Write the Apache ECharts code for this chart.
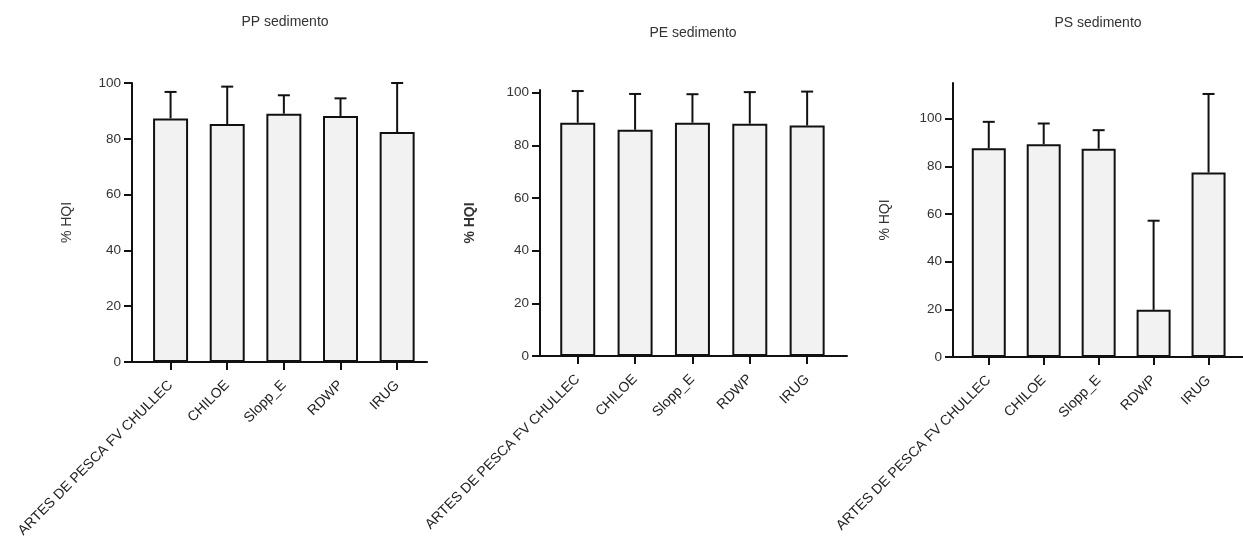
<!DOCTYPE html>
<html>
<head>
<meta charset="utf-8">
<script src="https://cdn.jsdelivr.net/npm/echarts@6/dist/echarts.min.js"></script>
<style>
html,body{margin:0;padding:0;background:#fff;}
#c{width:1243px;height:546px;}
</style>
</head>
<body>
<div id="c"></div>
<script>
const categories = ['ARTES DE PESCA FV CHULLEC', 'CHILOE', 'Slopp_E', 'RDWP', 'IRUG'];
const titles = ['PP sedimento', 'PE sedimento', 'PS sedimento'];
const yTickValues = [0, 20, 40, 60, 80, 100];

const ppMean = [87.3, 85.3, 89.0, 88.2, 82.4];
const ppSD   = [9.5, 13.4, 6.6, 6.3, 17.6];
const peMean = [88.6, 85.9, 88.6, 88.2, 87.5];
const peSD   = [12.0, 13.6, 10.8, 12.0, 12.9];
const psMean = [87.6, 89.3, 87.4, 19.8, 77.4];
const psSD   = [11.1, 8.7, 7.8, 37.4, 33.0];

const chart = echarts.init(document.getElementById('c'), null, {renderer: 'canvas'});
const FONT = '"Liberation Sans", Arial, sans-serif';
const AX = '#111';

// panel layout (pixels)
const panels = [
  {mean: ppMean, sd: ppSD, left: 132, right: 427, top: 83, bottom: 362, xmin: -0.681, xmax: 4.527, ymax: 100, nameGap: 58, bold: false, barW: 35, title: {x: 280, y: 10}},
  {mean: peMean, sd: peSD, left: 540, right: 847, top: 90, bottom: 356, xmin: -0.658, xmax: 4.695, ymax: 101, nameGap: 63, bold: true, barW: 35, title: {x: 688, y: 21}},
  {mean: psMean, sd: psSD, left: 953, right: 1243, top: 83, bottom: 357, xmin: -0.651, xmax: 4.627, ymax: 115, nameGap: 61, bold: false, barW: 34, title: {x: 1093, y: 11}}
];

const grid = [], xAxis = [], yAxis = [], series = [], title = [];
panels.forEach((p, k) => {
  grid.push({left: p.left, width: p.right - p.left, top: p.top, height: p.bottom - p.top, containLabel: false});
  title.push({text: titles[k], left: p.title.x, top: p.title.y, textAlign: 'center',
    textStyle: {fontFamily: FONT, fontSize: 14, fontWeight: 'normal', color: '#333'}});
  xAxis.push({
    type: 'value', gridIndex: k, min: p.xmin, max: p.xmax,
    splitLine: {show: false},
    axisLine: {show: true, onZero: false, lineStyle: {color: AX, width: 2}},
    axisTick: {show: true, length: 8, lineStyle: {color: AX, width: 2}, customValues: [0, 1, 2, 3, 4]},
    axisLabel: {show: true, rotate: 45, margin: 21, fontFamily: FONT, fontSize: 14, color: '#222',
      customValues: [0, 1, 2, 3, 4], formatter: v => categories[Math.round(v)]}
  });
  yAxis.push({
    type: 'value', gridIndex: k, min: 0, max: p.ymax,
    name: '% HQI', nameLocation: 'middle', nameGap: p.nameGap,
    nameTextStyle: {fontFamily: FONT, fontSize: 14, color: '#333', fontWeight: p.bold ? 'bold' : 'normal'},
    splitLine: {show: false},
    axisLine: {show: true, onZero: false, lineStyle: {color: AX, width: 2}},
    axisTick: {show: true, length: 8, lineStyle: {color: AX, width: 2}, customValues: yTickValues},
    axisLabel: {show: true, margin: 11, fontFamily: FONT, fontSize: 13.5, color: '#333', customValues: yTickValues}
  });
  series.push({
    type: 'custom', xAxisIndex: k, yAxisIndex: k, z: 1, clip: false,
    data: p.mean.map((m, i) => [i, m, m + p.sd[i]]),
    renderItem: (params, api) => {
      const base = api.coord([api.value(0), api.value(1)]);
      const top = api.coord([api.value(0), api.value(2)]);
      const cap = 6;
      return {type: 'group', children: [
        {type: 'line', shape: {x1: base[0], y1: base[1], x2: top[0], y2: top[1]}, style: {stroke: AX, lineWidth: 2}},
        {type: 'line', shape: {x1: top[0] - cap, y1: top[1], x2: top[0] + cap, y2: top[1]}, style: {stroke: AX, lineWidth: 2}}
      ]};
    }
  });
  series.push({
    type: 'bar', xAxisIndex: k, yAxisIndex: k, z: 2, barWidth: p.barW,
    data: p.mean.map((m, i) => [i, m]),
    itemStyle: {color: '#f2f2f2', borderColor: AX, borderWidth: 2},
    emphasis: {disabled: true}
  });
});

chart.setOption({
  animation: false,
  backgroundColor: '#fff',
  title, grid, xAxis, yAxis, series,
  tooltip: {show: false}
});
</script>
</body>
</html>
